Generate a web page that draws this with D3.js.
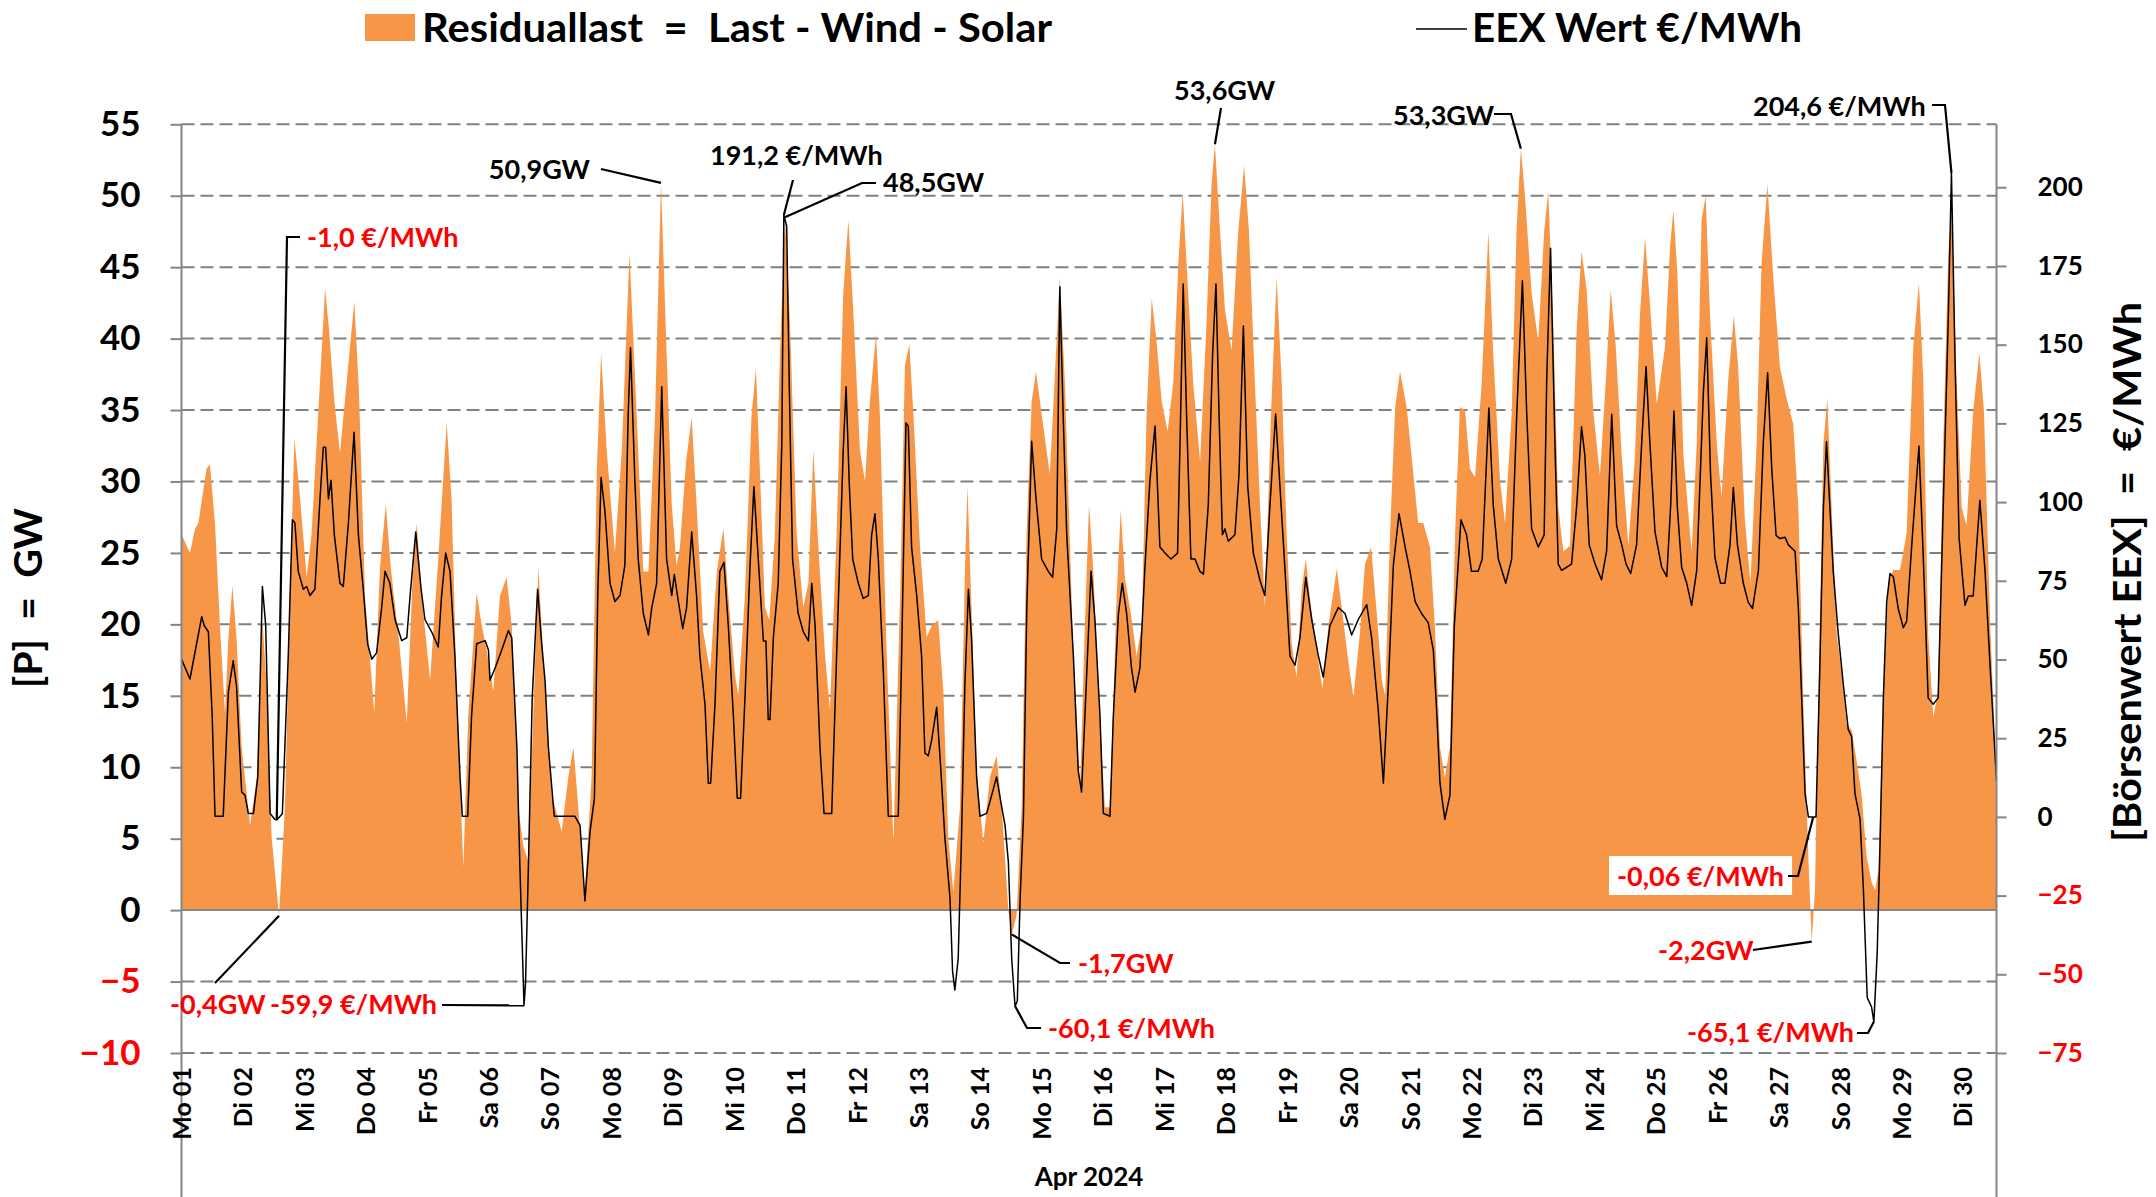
<!DOCTYPE html>
<html>
<head>
<meta charset="utf-8">
<script src="https://cdn.jsdelivr.net/npm/d3@7/dist/d3.min.js"></script>
<style>
  html, body { margin: 0; padding: 0; background: #fff; }
  svg text { font-family: Lato, 'Open Sans', sans-serif; font-weight: bold; white-space: pre; }
</style>
</head>
<body>
<svg id="chart"></svg>
<script>
// ---- data (hour of April 2024, value) ----
const dayLabels = ['Mo 01','Di 02','Mi 03','Do 04','Fr 05','Sa 06','So 07','Mo 08','Di 09','Mi 10',
  'Do 11','Fr 12','Sa 13','So 14','Mo 15','Di 16','Mi 17','Do 18','Fr 19','Sa 20',
  'So 21','Mo 22','Di 23','Mi 24','Do 25','Fr 26','Sa 27','So 28','Mo 29','Di 30'];
const leftTicks = [55, 50, 45, 40, 35, 30, 25, 20, 15, 10, 5, 0, -5, -10];
const rightTicks = [200, 175, 150, 125, 100, 75, 50, 25, 0, -25, -50, -75];

// Residuallast in GW
const residual = [
  [0,26.3],[3.3,25.0],[5.3,26.7],[6.6,27.1],[9.8,30.9],[11.1,31.2],[13.1,27.0],[15.0,19.9],[17.0,13.8],[18.3,19.0],
  [19.9,22.7],[21.5,19.0],[23.5,11.4],[26.8,5.9],[29.4,9.3],[31.6,20.3],[33.3,15.7],[35.2,5.1],[38.1,-0.4],[40.4,7.2],
  [42.4,22.0],[44.1,33.0],[45.9,29.7],[48.9,23.3],[50.8,26.3],[53.4,34.7],[56.1,43.5],[57.6,40.7],[59.7,35.6],[61.9,32.0],
  [64.5,36.9],[67.5,42.6],[69.3,36.4],[71.7,22.0],[75.3,13.8],[77.5,23.9],[79.8,28.4],[81.8,23.9],[85.0,18.8],[88.0,13.1],
  [90.2,23.0],[91.9,27.1],[93.8,22.0],[97.1,16.1],[100.3,24.6],[103.6,34.1],[105.5,28.8],[107.5,15.3],[110.1,3.0],[112.0,13.6],
  [115.3,22.2],[117.3,19.9],[119.2,18.2],[121.8,15.3],[124.4,22.0],[127.0,23.3],[129.0,19.9],[131.6,7.2],[133.5,4.5],[135.5,3.4],
  [137.4,13.6],[139.4,24.0],[141.3,17.8],[144.6,8.1],[148.5,5.5],[151.1,9.3],[153.1,11.4],[155.0,7.2],[157.4,0.8],[160.2,9.3],
  [162.2,30.5],[163.9,39.0],[166.1,32.2],[169.3,25.0],[172.0,32.2],[175.0,46.0],[177.8,34.7],[180.4,23.7],[182.4,23.7],[185.0,34.7],
  [187.3,50.9],[189.5,39.0],[191.5,28.4],[193.4,24.1],[194.7,25.4],[197.1,31.4],[199.3,34.5],[201.2,28.4],[203.8,19.5],[206.5,16.7],
  [209.1,23.7],[211.7,26.7],[213.6,22.0],[216.2,16.5],[217.5,15.0],[220.1,22.0],[222.7,34.7],[224.4,37.9],[226.0,30.5],[227.9,21.2],
  [229.6,20.3],[231.8,26.3],[233.8,39.0],[235.7,48.5],[237.7,41.1],[240.3,26.3],[242.9,21.2],[244.9,22.9],[246.8,32.2],[248.8,25.4],
  [251.4,17.8],[253.3,14.0],[255.9,26.3],[258.5,43.2],[260.5,48.3],[262.4,42.0],[265.0,32.2],[267.0,30.0],[268.9,35.6],[271.3,40.3],
  [272.8,34.7],[275.5,17.8],[278.1,4.7],[280.7,22.0],[282.6,38.1],[284.3,39.6],[285.9,34.7],[288.5,25.4],[291.1,19.1],[293.0,19.9],
  [295.6,20.3],[297.6,15.3],[299.5,5.1],[301.5,1.3],[304.1,7.2],[306.1,24.2],[307.0,29.7],[308.6,21.2],[310.6,9.7],[313.2,4.7],
  [315.8,9.3],[318.4,10.8],[320.4,7.2],[323.0,0.0],[324.3,-1.7],[326.2,-0.4],[328.2,7.2],[330.1,26.3],[332.1,35.6],[333.8,37.7],
  [336.6,33.9],[339.2,30.5],[341.6,39.0],[343.1,44.3],[345.1,36.9],[348.4,17.8],[351.0,8.5],[352.9,20.0],[354.5,28.4],[356.2,23.7],
  [358.1,15.7],[360.7,7.2],[362.7,7.2],[365.3,22.0],[366.9,28.0],[368.5,23.3],[371.2,20.3],[373.1,17.8],[375.1,19.9],[377.0,34.7],
  [379.0,42.8],[380.9,39.8],[382.9,35.6],[385.2,33.5],[387.4,36.9],[389.4,45.3],[391.1,50.2],[392.6,45.3],[395.2,36.9],[397.9,31.4],
  [400.4,41.1],[402.4,50.9],[403.7,53.6],[405.7,47.5],[407.6,42.0],[410.2,39.2],[412.8,47.5],[415.1,52.1],[417.0,47.5],[419.3,36.9],
  [421.3,28.4],[423.2,21.2],[425.6,34.7],[427.8,44.3],[429.8,36.9],[431.7,26.3],[433.7,18.6],[435.6,16.3],[437.6,22.5],[439.2,24.6],
  [441.2,21.2],[443.4,18.2],[445.7,15.5],[448.0,19.9],[451.3,23.9],[453.2,21.2],[455.8,17.4],[457.8,14.9],[460.4,19.5],[462.3,24.2],
  [464.7,25.4],[466.9,20.8],[468.9,16.1],[470.2,15.0],[472.1,26.3],[474.1,35.2],[476.0,37.7],[478.6,35.2],[481.2,30.5],[483.1,27.1],
  [485.1,27.1],[487.7,25.4],[489.6,19.9],[491.6,11.4],[493.5,9.3],[495.5,11.4],[497.5,26.3],[499.4,35.2],[501.4,35.0],[503.3,30.9],
  [505.3,30.3],[507.9,36.9],[510.5,47.5],[512.4,39.0],[515.1,30.0],[517.0,27.1],[519.6,34.7],[521.5,47.5],[523.2,53.3],[524.8,50.0],
  [527.4,43.2],[530.0,39.8],[532.3,47.5],[533.9,50.3],[535.9,40.7],[537.8,28.2],[539.8,25.1],[542.4,25.5],[545.0,40.7],[546.9,46.1],
  [548.9,43.4],[551.5,34.9],[554.1,30.4],[556.4,37.1],[558.3,43.4],[560.3,39.4],[562.6,31.8],[565.2,25.5],[567.8,31.8],[569.7,41.6],
  [571.7,47.1],[573.6,42.5],[576.3,35.4],[579.5,39.4],[581.5,46.5],[582.8,49.0],[584.3,44.7],[586.7,31.8],[589.9,25.1],[591.9,32.7],
  [593.8,48.3],[595.4,50.0],[597.1,41.6],[599.7,32.7],[601.6,28.9],[604.2,37.1],[606.4,41.6],[608.1,38.0],[610.7,27.3],[612.9,22.9],
  [615.3,32.7],[617.2,45.2],[619.5,50.8],[621.8,44.3],[624.4,38.0],[627.0,35.8],[629.6,34.0],[631.6,28.2],[633.5,14.8],[635.5,3.7],
  [636.8,-2.2],[638.1,1.4],[639.4,14.8],[641.4,32.7],[642.9,35.8],[644.6,28.2],[646.6,19.3],[648.5,16.6],[650.5,13.0],[652.4,12.6],
  [654.4,10.4],[656.3,8.1],[658.3,3.7],[660.3,1.9],[661.6,1.4],[662.9,2.8],[664.8,14.8],[666.7,22.9],[668.7,23.8],[671.3,23.8],
  [673.9,26.4],[676.5,39.4],[678.7,43.9],[680.4,37.1],[682.3,19.3],[684.3,13.5],[686.2,15.3],[688.2,32.7],[690.2,46.1],[691.4,48.6],
  [693.4,37.1],[695.4,28.2],[697.3,26.9],[699.9,34.9],[702.3,39.0],[704.1,34.9],[706.5,20.2],[709,9.0]
];

// EEX Wert in EUR/MWh
const price = [
  [0,50.1],[3.3,43.8],[5.9,55.0],[7.9,63.6],[8.9,60.7],[10.5,58.8],[12.0,31.9],[13.1,0.2],[16.3,0.2],[18.3,39.6],
  [20.2,49.6],[21.5,41.5],[23.5,7.9],[24.8,6.9],[26.1,1.1],[28.1,1.1],[29.8,12.7],[31.6,73.2],[32.9,60.7],[34.6,1.1],
  [36.5,-0.8],[37.2,-1.0],[39.4,1.0],[41.7,51.0],[43.3,94.4],[44.3,93.4],[45.6,78.0],[47.6,72.3],[48.9,73.2],[50.2,70.3],
  [52.1,72.3],[54.1,101.0],[55.4,117.4],[56.3,117.4],[57.4,101.0],[58.4,106.9],[59.7,89.6],[61.9,74.2],[63.2,73.2],[65.2,93.4],
  [67.4,122.2],[69.1,89.6],[71.0,72.3],[72.7,55.0],[74.3,50.1],[76.2,52.1],[78.2,66.5],[79.5,78.0],[81.4,74.2],[83.4,62.7],
  [86.0,56.0],[88.0,56.9],[89.3,70.3],[91.5,90.5],[93.6,72.3],[95.1,62.7],[97.7,58.8],[100.3,54.0],[101.6,70.3],[103.2,83.8],
  [104.9,78.0],[106.8,51.1],[108.8,12.7],[109.7,0.2],[111.8,0.2],[113.3,31.9],[115.3,55.0],[118.6,56.0],[119.9,53.0],[120.5,43.4],
  [122.5,47.3],[125.1,53.0],[127.7,59.2],[129.0,56.9],[131.0,22.3],[132.2,-16.2],[133.8,-59.9],[134.4,-52.7],[135.5,-16.2],[137.0,37.6],
  [139.1,72.3],[140.7,55.0],[142.0,43.4],[143.3,22.3],[145.6,0.2],[153.7,0.2],[155.7,-2.7],[157.6,-26.7],[159.6,-4.6],[161.3,5.9],
  [162.6,70.3],[163.9,107.8],[165.4,97.2],[167.4,74.2],[169.3,68.4],[171.3,70.3],[173.2,80.0],[174.5,128.0],[175.4,149.0],[177.1,106.9],
  [178.4,81.9],[180.4,64.6],[182.4,57.8],[183.7,66.5],[185.6,74.2],[187.6,136.6],[189.5,81.9],[191.5,70.3],[192.5,77.0],[194.1,68.4],
  [195.8,59.8],[197.3,66.5],[199.3,90.5],[201.2,70.3],[202.5,51.1],[204.5,35.7],[205.8,10.7],[206.7,10.7],[208.4,35.7],[210.3,78.0],
  [211.9,80.9],[213.6,60.7],[215.6,31.9],[217.1,5.9],[218.4,5.9],[220.1,37.6],[222.1,80.0],[223.6,104.9],[225.3,81.9],[227.3,55.9],
  [228.3,55.9],[229.2,30.9],[229.9,30.9],[231.2,56.9],[233.1,74.2],[234.5,118.4],[235.3,191.2],[236.4,187.6],[237.4,137.6],[238.7,81.9],
  [240.9,64.6],[242.9,58.8],[244.9,55.9],[246.2,74.2],[247.5,60.7],[249.4,22.3],[251.0,1.1],[254.0,1.1],[255.9,51.1],[258.5,116.5],
  [259.6,136.6],[260.9,104.9],[262.2,81.9],[264.4,74.2],[266.3,69.4],[268.3,70.3],[269.6,89.6],[270.9,96.3],[272.2,81.9],[274.2,45.3],
  [276.1,0.2],[280.0,0.2],[281.3,51.1],[283.0,125.1],[283.9,124.2],[285.2,85.7],[287.2,70.3],[289.1,51.1],[290.4,20.3],[291.7,19.4],
  [293.0,24.2],[295.0,34.8],[296.5,16.5],[298.2,-6.6],[300.2,-25.8],[301.2,-48.9],[302.1,-55.0],[303.4,-45.0],[304.7,-6.6],[306.0,41.5],
  [307.4,72.3],[308.6,56.9],[310.6,12.7],[311.9,0.2],[314.5,1.1],[316.5,6.9],[318.4,12.7],[320.0,5.0],[321.7,-2.7],[323.0,-14.3],
  [324.3,-45.0],[325.6,-60.1],[326.5,-58.5],[327.6,-25.8],[328.9,0.2],[330.2,66.5],[332.1,119.3],[333.8,101.1],[336.0,81.9],[338.6,78.0],
  [340.3,76.1],[341.9,91.5],[343.1,168.4],[344.4,128.0],[345.8,89.6],[348.4,51.1],[350.3,14.6],[351.6,7.9],[352.9,31.9],[355.3,78.0],
  [356.8,62.7],[358.8,31.9],[360.1,1.1],[362.7,0.2],[364.0,31.9],[366.0,64.6],[367.5,74.2],[369.2,64.6],[371.1,47.3],[372.5,39.6],
  [374.4,47.3],[376.4,80.0],[378.3,106.9],[380.3,124.2],[382.2,85.7],[384.2,83.8],[386.5,81.9],[389.1,83.8],[390.3,128.0],[391.3,169.3],
  [392.6,128.0],[394.3,81.9],[395.9,81.9],[397.8,78.0],[399.2,77.1],[401.1,99.2],[402.8,147.2],[404.1,169.3],[405.3,128.0],[406.6,89.6],
  [407.6,91.5],[408.9,87.6],[411.5,89.6],[413.1,108.8],[414.8,155.9],[416.5,104.9],[418.7,83.8],[421.3,75.1],[423.2,70.3],[425.2,99.2],
  [427.4,128.0],[429.1,104.9],[431.1,78.0],[433.0,51.1],[435.0,48.2],[436.9,56.9],[439.2,76.1],[441.5,62.7],[444.1,51.1],[446.0,44.4],
  [448.6,60.7],[451.9,66.5],[454.5,64.6],[457.1,57.8],[459.7,62.7],[463.0,67.4],[464.9,56.9],[467.5,33.8],[469.5,10.7],[471.4,41.5],
  [473.4,80.0],[475.6,96.3],[478.0,85.7],[479.9,78.0],[481.9,68.4],[484.4,64.6],[487.0,61.7],[489.0,53.0],[490.3,33.8],[491.6,10.7],
  [493.5,-0.8],[495.5,6.9],[497.2,60.7],[499.8,94.4],[502.0,89.6],[503.9,78.0],[506.5,78.0],[508.1,81.9],[510.7,129.9],[512.4,99.2],
  [514.4,81.9],[517.3,74.2],[519.6,81.9],[521.6,128.0],[523.8,170.3],[525.5,128.0],[527.4,91.5],[530.0,85.7],[532.3,89.6],[533.3,139.0],
  [534.8,180.6],[536.5,118.8],[537.8,80.3],[539.1,78.3],[541.1,79.3],[543.0,80.3],[545.0,98.6],[546.9,123.9],[548.2,114.8],[549.9,86.4],
  [552.2,80.3],[554.7,75.3],[556.7,84.4],[558.7,127.9],[560.6,92.5],[562.6,86.4],[564.3,80.3],[566.1,77.3],[568.4,86.4],[570.4,118.8],
  [572.1,143.1],[573.6,118.8],[575.6,90.5],[578.2,79.3],[580.2,76.3],[581.7,98.6],[583.0,128.9],[584.3,98.6],[586.0,79.3],[588.0,74.2],
  [589.9,67.2],[591.9,78.3],[594.5,135.0],[595.8,152.2],[597.3,108.7],[599.0,82.4],[601.2,74.2],[602.9,74.2],[604.9,86.4],[606.2,104.6],
  [607.8,86.4],[610.1,74.2],[612.0,68.2],[613.7,66.2],[616.0,78.3],[617.9,118.8],[619.6,141.1],[621.2,110.7],[622.9,89.4],[624.4,88.4],
  [626.4,88.8],[627.7,86.4],[630.3,84.4],[631.6,66.2],[632.9,37.8],[634.2,7.5],[635.5,0.0],[637.4,-0.06],[638.5,0.0],[640.0,47.9],
  [641.4,98.6],[642.6,119.2],[643.9,98.6],[645.2,78.3],[647.2,58.0],[649.2,41.8],[651.1,27.7],[652.4,25.6],[653.7,7.5],[655.7,-0.7],
  [657.0,-23.0],[658.5,-57.4],[660.2,-60.4],[661.1,-65.1],[662.4,-43.2],[663.5,-8.8],[664.8,37.8],[666.1,68.2],[667.4,77.3],[668.7,76.3],
  [670.6,66.2],[672.6,60.1],[673.9,62.1],[675.9,86.4],[678.7,117.8],[680.4,82.4],[682.3,37.8],[684.3,35.8],[686.2,37.8],[688.2,98.6],
  [690.2,159.3],[691.4,204.6],[692.8,145.1],[694.4,88.4],[696.7,67.2],[698.0,70.2],[699.9,70.2],[702.5,100.6],[704.5,78.3],[706.5,47.9],
  [709,11.5]
];

// highlighted extremes: [hour, value, axis, label]
const extremes = [
  [187.3, 50.9, 'gw', '50,9GW'],
  [235.3, 191.2, 'eur', '191,2 €/MWh'],
  [235.7, 48.5, 'gw', '48,5GW'],
  [37.2, -1.0, 'eur', '-1,0 €/MWh'],
  [38.1, -0.4, 'gw', '-0,4GW'],
  [133.8, -59.9, 'eur', '-59,9 €/MWh'],
  [324.3, -1.7, 'gw', '-1,7GW'],
  [325.6, -60.1, 'eur', '-60,1 €/MWh'],
  [403.7, 53.6, 'gw', '53,6GW'],
  [523.2, 53.3, 'gw', '53,3GW'],
  [691.4, 204.6, 'eur', '204,6 €/MWh'],
  [637.4, -0.06, 'eur', '-0,06 €/MWh'],
  [636.8, -2.2, 'gw', '-2,2GW'],
  [661.1, -65.1, 'eur', '-65,1 €/MWh']
];

// ---- layout ----
const W = 2156, H = 1197;
const plot = { left: 181.5, right: 1996.5, top: 124.3, bottom: 1053 };
const orange = '#F79646';
const axisGrey = '#868686';
const gridGrey = '#808080';
const red = '#FF0000';

// where each label sits and the bend points of its leader line
const labelLayout = [
  { x: 590, y: 179, anchor: 'end', bends: [[601, 169]] },
  { x: 710, y: 165, anchor: 'start', bends: [[793, 180]] },
  { x: 883, y: 192, anchor: 'start', bends: [[876, 183], [862, 183]] },
  { x: 307, y: 247, anchor: 'start', bends: [[300, 237], [287, 237]] },
  { x: 170, y: 1014, anchor: 'start', bends: [[215, 983]] },
  { x: 270, y: 1014, anchor: 'start', bends: [[442, 1005]] },
  { x: 1078, y: 973, anchor: 'start', bends: [[1070, 963], [1060, 963]] },
  { x: 1048, y: 1038, anchor: 'start', bends: [[1041, 1028], [1027, 1028]] },
  { x: 1174, y: 100, anchor: 'start', bends: [[1221, 108]] },
  { x: 1393, y: 125, anchor: 'start', bends: [[1494, 114], [1511, 114]] },
  { x: 1753, y: 116, anchor: 'start', bends: [[1932, 105], [1945, 105]] },
  { x: 1617, y: 886, anchor: 'start', bends: [[1788, 876], [1798, 876]], box: true },
  { x: 1658, y: 960, anchor: 'start', bends: [[1753, 950]] },
  { x: 1687, y: 1042, anchor: 'start', bends: [[1857, 1033], [1868, 1033]] }
];

const svg = d3.select('#chart')
  .attr('width', W)
  .attr('height', H)
  .style('display', 'block')
  .style('background', '#fff');

const x = d3.scaleLinear().domain([0, 709]).range([plot.left, plot.right]);
const yGW = d3.scaleLinear().domain([-10, 55]).range([plot.bottom, plot.top]);
const yEUR = d3.scaleLinear().domain([-75, 220]).range([plot.bottom, plot.top]);

// dashed grid
svg.append('g')
  .selectAll('line')
  .data(leftTicks.filter(d => d !== 0))
  .join('line')
  .attr('x1', plot.left)
  .attr('x2', plot.right)
  .attr('y1', d => yGW(d))
  .attr('y2', d => yGW(d))
  .attr('stroke', gridGrey)
  .attr('stroke-width', 2)
  .attr('stroke-dasharray', '13,6');

// residual load area
const area = d3.area()
  .x(d => x(d[0]))
  .y0(yGW(0))
  .y1(d => yGW(d[1]));

svg.append('path')
  .datum(residual)
  .attr('fill', orange)
  .attr('d', area);

// zero line
svg.append('line')
  .attr('x1', plot.left)
  .attr('x2', plot.right)
  .attr('y1', yGW(0))
  .attr('y2', yGW(0))
  .attr('stroke', axisGrey)
  .attr('stroke-width', 2);

// price line
const line = d3.line()
  .x(d => x(d[0]))
  .y(d => yEUR(d[1]));

svg.append('path')
  .datum(price)
  .attr('fill', 'none')
  .attr('stroke', '#000')
  .attr('stroke-width', 1.5)
  .attr('stroke-linejoin', 'round')
  .attr('d', line);

// left axis
const leftAxis = svg.append('g')
  .attr('transform', `translate(${plot.left},0)`)
  .call(d3.axisLeft(yGW).tickValues(leftTicks).tickSize(11).tickPadding(30));
leftAxis.select('.domain').remove();
leftAxis.selectAll('line').attr('stroke', axisGrey).attr('stroke-width', 2);
leftAxis.selectAll('text')
  .style('font-size', '35px')
  .attr('fill', d => d < 0 ? red : '#000');

// right axis
const rightAxis = svg.append('g')
  .attr('transform', `translate(${plot.right},0)`)
  .call(d3.axisRight(yEUR).tickValues(rightTicks).tickSize(10).tickPadding(31));
rightAxis.select('.domain').remove();
rightAxis.selectAll('line').attr('stroke', axisGrey).attr('stroke-width', 2);
rightAxis.selectAll('text')
  .style('font-size', '26px')
  .attr('fill', d => d < 0 ? red : '#000');

// vertical axis lines (down to the bottom of the category area)
svg.append('g')
  .selectAll('line')
  .data([plot.left, plot.right])
  .join('line')
  .attr('x1', d => d)
  .attr('x2', d => d)
  .attr('y1', plot.top)
  .attr('y2', H)
  .attr('stroke', axisGrey)
  .attr('stroke-width', 2);

// day labels
const dayAxis = svg.append('g')
  .attr('transform', `translate(0,${plot.bottom})`)
  .call(d3.axisBottom(x).tickValues(dayLabels.map((d, i) => i * 24)).tickFormat((d, i) => dayLabels[i]).tickSize(0));
dayAxis.select('.domain').remove();
dayAxis.selectAll('text')
  .attr('transform', 'rotate(-90)')
  .attr('x', -14)
  .attr('y', 0)
  .attr('dy', '0.35em')
  .attr('text-anchor', 'end')
  .attr('fill', '#000')
  .style('font-size', '25px');

svg.append('text')
  .attr('x', (plot.left + plot.right) / 2)
  .attr('y', 1186)
  .attr('text-anchor', 'middle')
  .style('font-size', '26px')
  .text('Apr 2024');

// axis titles
svg.append('text')
  .attr('transform', 'translate(42,598) rotate(-90)')
  .attr('text-anchor', 'middle')
  .attr('textLength', 180)
  .attr('lengthAdjust', 'spacingAndGlyphs')
  .style('font-size', '38px')
  .text('[P]  =  GW');

svg.append('text')
  .attr('transform', 'translate(2141,572) rotate(-90)')
  .attr('text-anchor', 'middle')
  .attr('textLength', 540)
  .attr('lengthAdjust', 'spacingAndGlyphs')
  .style('font-size', '38px')
  .text('[Börsenwert EEX]  =  €/MWh');

// legend
svg.append('rect')
  .attr('x', 365)
  .attr('y', 14)
  .attr('width', 50)
  .attr('height', 27)
  .attr('fill', orange);
svg.append('text')
  .attr('x', 422)
  .attr('y', 42)
  .attr('textLength', 630)
  .attr('lengthAdjust', 'spacingAndGlyphs')
  .style('font-size', '40px')
  .text('Residuallast  =  Last - Wind - Solar');

svg.append('line')
  .attr('x1', 1416)
  .attr('x2', 1467)
  .attr('y1', 29)
  .attr('y2', 29)
  .attr('stroke', '#000')
  .attr('stroke-width', 1.5);
svg.append('text')
  .attr('x', 1472)
  .attr('y', 42)
  .attr('textLength', 330)
  .attr('lengthAdjust', 'spacingAndGlyphs')
  .style('font-size', '40px')
  .text('EEX Wert €/MWh');

// annotations
const notes = svg.append('g');
extremes.forEach((e, i) => {
  const [h, v, axis, label] = e;
  const lay = labelLayout[i];
  const px = x(h);
  const py = axis === 'gw' ? yGW(v) : yEUR(v);
  const color = v < 0 ? red : '#000';

  notes.append('path')
    .attr('d', d3.line()([...lay.bends, [px, py]]))
    .attr('fill', 'none')
    .attr('stroke', '#000')
    .attr('stroke-width', 2.2);

  const t = notes.append('text')
    .attr('x', lay.x)
    .attr('y', lay.y)
    .attr('text-anchor', lay.anchor)
    .attr('fill', color)
    .style('font-size', '27px')
    .text(label);

  if (lay.box) {
    const b = t.node().getBBox();
    notes.insert('rect', 'text')
      .attr('x', b.x - 8)
      .attr('y', b.y - 3)
      .attr('width', b.width + 16)
      .attr('height', b.height + 6)
      .attr('fill', '#fff');
  }
});
</script>
</body>
</html>
